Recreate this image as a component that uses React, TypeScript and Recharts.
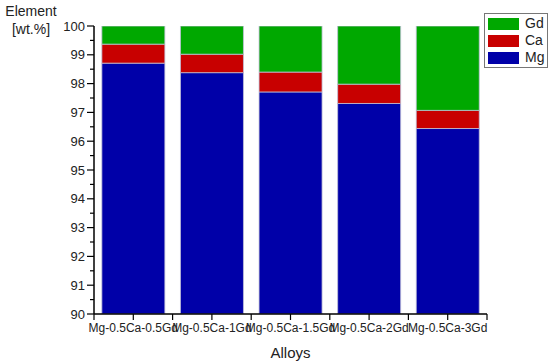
import { BarChart, Bar, XAxis, YAxis } from "recharts";

// ── Data ─────────────────────────────────────────────────────────────────────

const alloys = [
  "Mg-0.5Ca-0.5Gd",
  "Mg-0.5Ca-1Gd",
  "Mg-0.5Ca-1.5Gd",
  "Mg-0.5Ca-2Gd",
  "Mg-0.5Ca-3Gd",
];
const mg = [98.71, 98.38, 97.71, 97.31, 96.44];
const ca = [0.66, 0.64, 0.69, 0.67, 0.63];
const gd = [0.63, 0.98, 1.6, 2.02, 2.93];
const yTicks = [90, 90.5, 91, 91.5, 92, 92.5, 93, 93.5, 94, 94.5, 95, 95.5, 96, 96.5, 97, 97.5, 98, 98.5, 99, 99.5, 100];

const data = alloys.map((name, i) => ({ name, Mg: mg[i], Ca: ca[i], Gd: gd[i] }));

const COLORS = { Gd: "#00a800", Ca: "#c80000", Mg: "#0000a8" };
const FONT = "'Liberation Sans', Arial, sans-serif";
const W = 550;
const H = 364;
const MARGIN = { top: 26, right: 63, bottom: 0, left: 0 };
const Y_WIDTH = 94;

// ── Axis ticks ───────────────────────────────────────────────────────────────

function YTick(props: any) {
  const { x, y, payload } = props;
  const axisX = x + 9;
  const major = Number.isInteger(payload.value);
  return (
    <g>
      <line x1={axisX - (major ? 7 : 4)} x2={axisX} y1={y} y2={y} stroke="#000" strokeWidth={1.2} />
      {major && (
        <text x={x} y={y} dy="0.35em" textAnchor="end" fontSize={13} fontFamily={FONT} fill="#222">
          {payload.value}
        </text>
      )}
    </g>
  );
}

function XTick(props: any) {
  const { x, y, payload, index } = props;
  const band = (W - Y_WIDTH - MARGIN.right) / alloys.length;
  const axisY = y - 9;
  const marks = [x, x - band / 2];
  if (index === alloys.length - 1) marks.push(x + band / 2);
  return (
    <g>
      {marks.map((m, i) => (
        <line key={i} x1={m} x2={m} y1={axisY} y2={axisY + 6} stroke="#000" strokeWidth={1.2} />
      ))}
      <text x={x} y={y} dy="0.71em" textAnchor="middle" fontSize={12} fontFamily={FONT} fill="#222">
        {payload.value}
      </text>
    </g>
  );
}

// ── Legend (overlay box) ─────────────────────────────────────────────────────

function BoxLegend() {
  const keys: (keyof typeof COLORS)[] = ["Gd", "Ca", "Mg"];
  return (
    <div
      style={{
        position: "absolute",
        left: 484,
        top: 13,
        border: "1px solid #777",
        padding: "1px 3px",
        background: "#fff",
        fontFamily: FONT,
        fontSize: 14,
        lineHeight: "17px",
      }}
    >
      {keys.map((k) => (
        <div key={k} style={{ display: "flex", alignItems: "center", gap: 6 }}>
          <span style={{ display: "inline-block", width: 31, height: 12, background: COLORS[k] }} />
          <span style={{ color: "#222" }}>{k}</span>
        </div>
      ))}
    </div>
  );
}

export default function App() {
  return (
    <div style={{ position: "absolute", left: 0, top: 0, width: W, height: H, background: "#fff" }}>
      <div
        style={{
          position: "absolute",
          left: 0,
          top: 2,
          width: 62,
          textAlign: "center",
          fontFamily: FONT,
          fontSize: 14,
          lineHeight: "18px",
          color: "#222",
        }}
      >
        Element
        <br />
        [wt.%]
      </div>
      <BarChart width={W} height={H} data={data} margin={MARGIN} barCategoryGap="10%">
        <XAxis
          dataKey="name"
          interval={0}
          height={50}
          tickSize={6}
          tickMargin={3}
          tickLine={false}
          tick={<XTick />}
          axisLine={{ stroke: "#000", strokeWidth: 1.5 }}
          label={{
            value: "Alloys",
            position: "insideBottom",
            offset: 6,
            fontSize: 15,
            fontFamily: FONT,
            fill: "#222",
          }}
        />
        <YAxis
          domain={[90, 100]}
          allowDataOverflow
          ticks={yTicks}
          interval={0}
          width={Y_WIDTH}
          tickSize={7}
          tickMargin={2}
          tickLine={false}
          tick={<YTick />}
          axisLine={{ stroke: "#000", strokeWidth: 1.5 }}
        />
        <Bar dataKey="Mg" stackId="a" fill={COLORS.Mg} stroke="#c0c0d8" strokeWidth={0.8} isAnimationActive={false} />
        <Bar dataKey="Ca" stackId="a" fill={COLORS.Ca} stroke="#c0c0d8" strokeWidth={0.8} isAnimationActive={false} />
        <Bar dataKey="Gd" stackId="a" fill={COLORS.Gd} stroke="#c0c0d8" strokeWidth={0.8} isAnimationActive={false} />
      </BarChart>
      <BoxLegend />
    </div>
  );
}
